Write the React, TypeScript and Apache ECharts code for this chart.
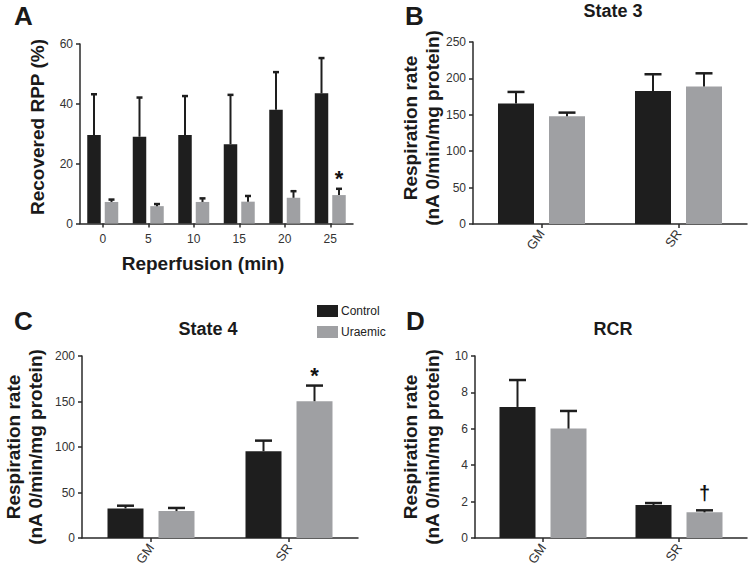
import React, { useEffect, useRef } from "react";
import * as echarts from "echarts";

// ---------- Data ----------
const timeCategories = ["0", "5", "10", "15", "20", "25"];
const rppControl = [29.6, 29.0, 29.6, 26.5, 38.0, 43.5];
const rppControlErr = [13.6, 13.1, 13.0, 16.5, 12.6, 11.8];
const rppUraemic = [7.2, 5.8, 7.2, 7.3, 8.6, 9.5];
const rppUraemicErr = [0.8, 0.7, 1.2, 1.9, 2.2, 2.1];
const rppUraemicMarks = ["", "", "", "", "", "*"];

const substrateCategories = ["GM", "SR"];

const state3Control = [165.4, 182.8];
const state3ControlErr = [16.0, 22.9];
const state3Uraemic = [148.0, 189.0];
const state3UraemicErr = [5.0, 18.0];

const state4Control = [32.5, 95.4];
const state4ControlErr = [3.0, 11.6];
const state4Uraemic = [29.6, 150.3];
const state4UraemicErr = [3.4, 17.2];
const state4UraemicMarks = ["", "*"];

const rcrControl = [7.2, 1.81];
const rcrControlErr = [1.48, 0.11];
const rcrUraemic = [6.01, 1.41];
const rcrUraemicErr = [0.97, 0.11];
const rcrUraemicMarks = ["", "\u2020"];

const FONT = "'Liberation Sans', Arial, Helvetica, sans-serif";
const BLACK = "#1e1e1e";
const GREY = "#9fa0a3";
const AXIS = "#2a2a2a";

export default function App() {
  const ref = useRef<HTMLDivElement>(null);

  useEffect(() => {
    if (!ref.current) return;
    const chart = echarts.init(ref.current, null, { renderer: "svg" });

    const grids = [
      { left: 80, top: 44, width: 273, height: 179.5 },
      { left: 473, top: 42, width: 274, height: 182 },
      { left: 82, top: 356, width: 276, height: 182 },
      { left: 475, top: 356, width: 272, height: 182 },
    ];

    const yRanges = [
      { max: 60, interval: 20 },
      { max: 250, interval: 50 },
      { max: 200, interval: 50 },
      { max: 10, interval: 2 },
    ];

    const xAxes = grids.map((_, i) => ({
      type: "category" as const,
      gridIndex: i,
      data: i === 0 ? timeCategories : substrateCategories,
      axisLine: { lineStyle: { color: AXIS, width: 1.5 } },
      axisTick: { show: true, alignWithLabel: true, length: 4, lineStyle: { color: AXIS, width: 1.5 } },
      axisLabel: {
        color: "#333",
        fontFamily: FONT,
        fontSize: i === 0 ? 12 : 13,
        margin: i === 0 ? 9 : 7,
        rotate: i === 0 ? 0 : 55,
      },
      splitLine: { show: false },
    }));

    const yAxes = grids.map((_, i) => ({
      type: "value" as const,
      gridIndex: i,
      min: 0,
      max: yRanges[i].max,
      interval: yRanges[i].interval,
      axisLine: { show: true, lineStyle: { color: AXIS, width: 1.5 } },
      axisTick: { show: true, length: 4, lineStyle: { color: AXIS, width: 1.5 } },
      axisLabel: { color: "#333", fontFamily: FONT, fontSize: 12, margin: 7 },
      splitLine: { show: false },
    }));

    const panels = [
      {
        c: rppControl, ce: rppControlErr, u: rppUraemic, ue: rppUraemicErr,
        um: rppUraemicMarks, bw: 13.5, gap: 4, cap: 6,
      },
      {
        c: state3Control, ce: state3ControlErr, u: state3Uraemic, ue: state3UraemicErr,
        um: ["", ""], bw: 36, gap: 15, cap: 17,
      },
      {
        c: state4Control, ce: state4ControlErr, u: state4Uraemic, ue: state4UraemicErr,
        um: state4UraemicMarks, bw: 36, gap: 15, cap: 17,
      },
      {
        c: rcrControl, ce: rcrControlErr, u: rcrUraemic, ue: rcrUraemicErr,
        um: rcrUraemicMarks, bw: 36, gap: 15, cap: 17,
      },
    ];

    const series: any[] = [];
    panels.forEach((p, i) => {
      const barGap = ((p.gap / p.bw) * 100).toFixed(1) + "%";
      series.push({
        type: "bar",
        name: "Control",
        xAxisIndex: i,
        yAxisIndex: i,
        data: p.c,
        barWidth: p.bw,
        barGap,
        itemStyle: { color: BLACK },
        z: 2,
      });
      series.push({
        type: "bar",
        name: "Uraemic",
        xAxisIndex: i,
        yAxisIndex: i,
        data: p.u,
        barWidth: p.bw,
        barGap,
        itemStyle: { color: GREY },
        z: 2,
      });
      const off = (p.bw + p.gap) / 2;
      const makeErr = (vals: number[], errs: number[], marks: string[], sign: number) => ({
        type: "custom",
        xAxisIndex: i,
        yAxisIndex: i,
        z: 5,
        silent: true,
        data: vals.map((v, k) => [k, v, errs[k]]),
        renderItem: (params: any, api: any) => {
          const k = api.value(0);
          const v = api.value(1);
          const e = api.value(2);
          const base = api.coord([k, v]);
          const top = api.coord([k, v + e]);
          const x = base[0] + sign * off;
          const children: any[] = [
            {
              type: "line",
              shape: { x1: x, y1: base[1], x2: x, y2: top[1] },
              style: { stroke: BLACK, lineWidth: 2 },
            },
            {
              type: "line",
              shape: { x1: x - p.cap / 2, y1: top[1], x2: x + p.cap / 2, y2: top[1] },
              style: { stroke: BLACK, lineWidth: 2.5 },
            },
          ];
          const m = marks[params.dataIndex];
          if (m) {
            const isDagger = m === "\u2020";
            children.push({
              type: "text",
              x,
              y: top[1] - (isDagger ? 17 : 10),
              style: {
                text: m,
                fill: "#111",
                font: `bold ${isDagger ? 20 : 22}px ${FONT}`,
                align: "center",
                verticalAlign: "middle",
                textAlign: "center",
                textVerticalAlign: "middle",
              },
            });
          }
          return { type: "group", children };
        },
      });
      series.push(makeErr(p.c, p.ce, ["", "", "", "", "", ""], -1));
      series.push(makeErr(p.u, p.ue, p.um, 1));
    });

    const txt = (text: string, x: number, y: number, size: number, rot = 0, align = "center") => ({
      type: "text",
      x,
      y,
      rotation: rot,
      style: {
        text,
        fill: "#1a1a1a",
        font: `bold ${size}px ${FONT}`,
        align,
        verticalAlign: "middle",
        textAlign: align,
        textVerticalAlign: "middle",
      },
    });
    const R = Math.PI / 2;

    const graphic = [
      txt("A", 14, 16, 26, 0, "left"),
      txt("B", 405, 16, 26, 0, "left"),
      txt("C", 14, 321, 26, 0, "left"),
      txt("D", 406, 321, 26, 0, "left"),
      txt("State 3", 613, 11, 18),
      txt("State 4", 208, 329, 18),
      txt("RCR", 613, 329, 18),
      txt("Reperfusion (min)", 203, 263, 19),
      txt("Recovered RPP (%)", 37, 127, 19, R),
      txt("Respiration rate", 410, 128, 19, R),
      txt("(nA 0/min/mg protein)", 432, 128, 19, R),
      txt("Respiration rate", 13, 447, 19, R),
      txt("(nA 0/min/mg protein)", 35, 447, 19, R),
      txt("Respiration rate", 410, 447, 19, R),
      txt("(nA 0/min/mg protein)", 432, 447, 19, R),
    ];

    chart.setOption({
      animation: false,
      backgroundColor: "#ffffff",
      grid: grids,
      xAxis: xAxes,
      yAxis: yAxes,
      legend: {
        data: ["Control", "Uraemic"],
        orient: "vertical",
        left: 312,
        top: 300,
        itemWidth: 21,
        itemHeight: 12,
        itemGap: 9,
        icon: "rect",
        textStyle: { fontFamily: FONT, fontSize: 12, color: "#222", padding: [0, 0, 0, -2] },
      },
      series,
      graphic,
    });

    return () => chart.dispose();
  }, []);

  return (
    <div
      ref={ref}
      style={{ position: "fixed", left: 0, top: 0, width: 753, height: 572 }}
    />
  );
}
